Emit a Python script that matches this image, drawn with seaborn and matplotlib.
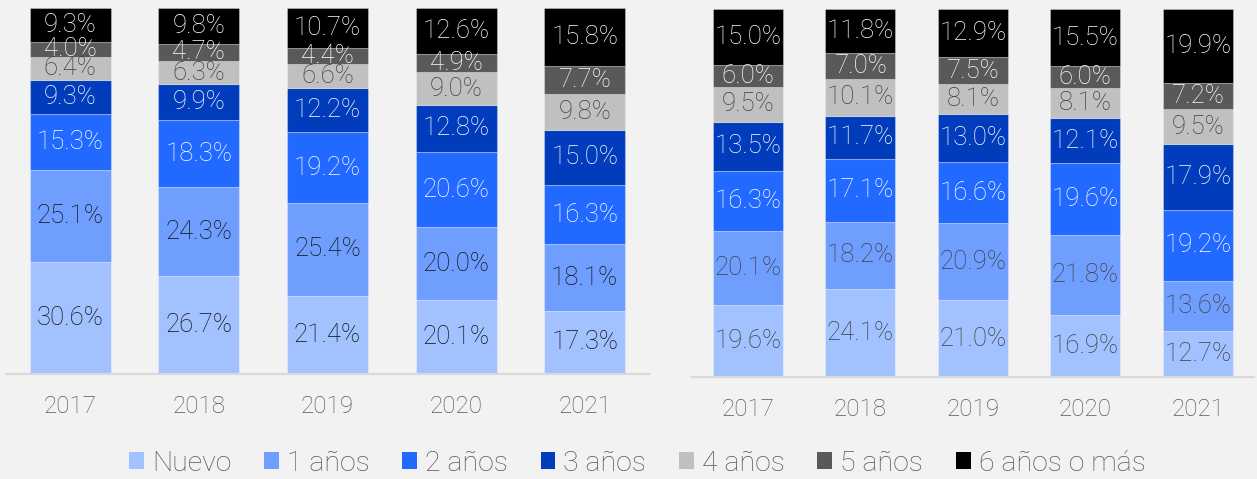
import matplotlib
matplotlib.use("Agg")
import matplotlib.pyplot as plt
from matplotlib.patches import Patch
import pandas as pd
import seaborn as sns

years = ["2017", "2018", "2019", "2020", "2021"]
categories = ["Nuevo", "1 años", "2 años", "3 años", "4 años", "5 años", "6 años o más"]
colors = ["#a1c1ff", "#6f9eff", "#2269ff", "#003cbc", "#c0c0c0", "#595959", "#000000"]

# Left panel: share by age (%)
left_nuevo = [30.6, 26.7, 21.4, 20.1, 17.3]
left_1 = [25.1, 24.3, 25.4, 20.0, 18.1]
left_2 = [15.3, 18.3, 19.2, 20.6, 16.3]
left_3 = [9.3, 9.9, 12.2, 12.8, 15.0]
left_4 = [6.4, 6.3, 6.6, 9.0, 9.8]
left_5 = [4.0, 4.7, 4.4, 4.9, 7.7]
left_6 = [9.3, 9.8, 10.7, 12.6, 15.8]

# Right panel: share by age (%)
right_nuevo = [19.6, 24.1, 21.0, 16.9, 12.7]
right_1 = [20.1, 18.2, 20.9, 21.8, 13.6]
right_2 = [16.3, 17.1, 16.6, 19.6, 19.2]
right_3 = [13.5, 11.7, 13.0, 12.1, 17.9]
right_4 = [9.5, 10.1, 8.1, 8.1, 9.5]
right_5 = [6.0, 7.0, 7.5, 6.0, 7.2]
right_6 = [15.0, 11.8, 12.9, 15.5, 19.9]

left_series = [left_nuevo, left_1, left_2, left_3, left_4, left_5, left_6]
right_series = [right_nuevo, right_1, right_2, right_3, right_4, right_5, right_6]

left_label_colors = ["#111111", "#111111", "white", "white", "#404040", "white", "white"]
right_label_colors = ["#404040", "#404040", "white", "white", "#404040", "white", "white"]

sns.set_theme(style="white")
plt.rcParams["font.family"] = ["Roboto", "DejaVu Sans"]

bg = "#f2f2f2"
fig = plt.figure(figsize=(12.57, 4.79), dpi=100, facecolor=bg)
ax_l = fig.add_axes([6 / 1257, 0.2192, 643 / 1257, 0.7641])
ax_r = fig.add_axes([691.5 / 1257, 0.2119, 562.5 / 1257, 0.7687])


def stacked(ax, series, label_colors, width):
    bottom = [0.0] * len(years)
    for vals, col, lc in zip(series, colors, label_colors):
        df = pd.DataFrame({"year": years, "value": vals})
        sns.barplot(data=df, x="year", y="value", order=years, color=col,
                    saturation=1, errorbar=None, width=width, bottom=bottom,
                    edgecolor=(1, 1, 1, 0.3), linewidth=0.8, ax=ax)
        ax.bar_label(ax.containers[-1], labels=[f"{v:.1f}%" for v in vals],
                     label_type="center", color=lc, fontsize=18.5,
                     fontweight="light")
        bottom = [b + v for b, v in zip(bottom, vals)]
    ax.set_facecolor(bg)
    ax.set_xlim(-0.5, 4.5)
    ax.set_ylim(0, 100)
    ax.set_xlabel("")
    ax.set_ylabel("")
    ax.set_yticks([])
    for s in ["left", "right", "top"]:
        ax.spines[s].set_visible(False)
    ax.spines["bottom"].set_color("#d9d9d9")
    ax.spines["bottom"].set_linewidth(1.6)
    ax.tick_params(axis="x", length=0, pad=15, labelsize=17.5, labelcolor="#595959")
    for t in ax.get_xticklabels():
        t.set_fontweight("light")


stacked(ax_l, left_series, left_label_colors, 0.63)
stacked(ax_r, right_series, right_label_colors, 0.62)

handles = [Patch(facecolor=c, edgecolor="none") for c in colors]
leg = fig.legend(handles, categories, loc="center", bbox_to_anchor=(0.507, 0.033),
                 ncol=7, frameon=False, fontsize=20.5, handlelength=0.52,
                 handleheight=0.52, handletextpad=0.28, columnspacing=1.15,
                 labelcolor="#595959")
for t in leg.get_texts():
    t.set_fontweight("light")

fig.savefig("out.png", dpi=100, facecolor=bg)
